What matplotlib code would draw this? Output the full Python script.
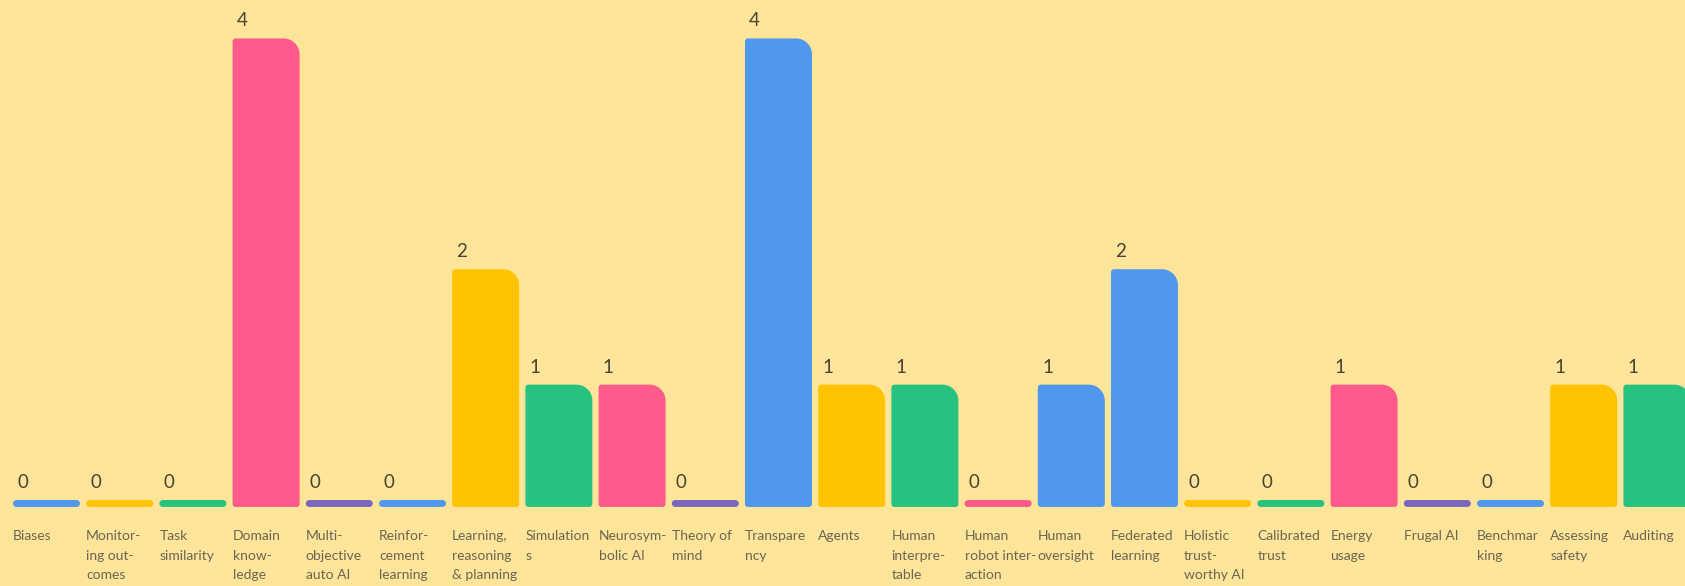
import numpy as np
import matplotlib.pyplot as plt
from matplotlib.path import Path
from matplotlib.patches import PathPatch

plt.rcParams['font.family'] = ['Lato', 'DejaVu Sans']

categories = [
    "Biases", "Monitor-\ning out-\ncomes", "Task\nsimilarity", "Domain\nknow-\nledge",
    "Multi-\nobjective\nauto AI", "Reinfor-\ncement\nlearning", "Learning,\nreasoning\n& planning",
    "Simulation\ns", "Neurosym-\nbolic AI", "Theory of\nmind", "Transpare\nncy", "Agents",
    "Human\ninterpre-\ntable", "Human\nrobot inter-\naction", "Human\noversight",
    "Federated\nlearning", "Holistic\ntrust-\nworthy AI", "Calibrated\ntrust", "Energy\nusage",
    "Frugal AI", "Benchmar\nking", "Assessing\nsafety", "Auditing",
]
values = [0, 0, 0, 4, 0, 0, 2, 1, 1, 0, 4, 1, 1, 0, 1, 2, 0, 0, 1, 0, 0, 1, 1]

BLUE, YELLOW, GREEN, PINK, PURPLE = "#4f98ee", "#ffc300", "#27c27f", "#ff5a8b", "#7b66be"
colors = [BLUE, YELLOW, GREEN, PINK, PURPLE, BLUE, YELLOW, GREEN, PINK, PURPLE,
          BLUE, YELLOW, GREEN, PINK, BLUE, BLUE, YELLOW, GREEN, PINK, PURPLE,
          BLUE, YELLOW, GREEN]

BG = "#ffe599"
BAR_W = 0.915
STUB = 0.06   # zero values still get a thin pill
K = 0.5523


def rounded_path(x0, x1, y0, y1, radii, sx, sy):
    # radii in pixels: bottom-left, bottom-right, top-right, top-left
    h_px = (y1 - y0) * sy
    bl, br, tr, tl = [min(r, h_px / 2) for r in radii]
    v, c = [], []

    def rx(r):
        return r / sx

    def ry(r):
        return r / sy

    v.append((x0 + rx(bl), y0)); c.append(Path.MOVETO)
    v.append((x1 - rx(br), y0)); c.append(Path.LINETO)
    v += [(x1 - rx(br) + K * rx(br), y0), (x1, y0 + ry(br) - K * ry(br)), (x1, y0 + ry(br))]
    c += [Path.CURVE4] * 3
    v.append((x1, y1 - ry(tr))); c.append(Path.LINETO)
    v += [(x1, y1 - ry(tr) + K * ry(tr)), (x1 - rx(tr) + K * rx(tr), y1), (x1 - rx(tr), y1)]
    c += [Path.CURVE4] * 3
    v.append((x0 + rx(tl), y1)); c.append(Path.LINETO)
    v += [(x0 + rx(tl) - K * rx(tl), y1), (x0, y1 - ry(tl) + K * ry(tl)), (x0, y1 - ry(tl))]
    c += [Path.CURVE4] * 3
    v.append((x0, y0 + ry(bl))); c.append(Path.LINETO)
    v += [(x0, y0 + ry(bl) - K * ry(bl)), (x0 + rx(bl) - K * rx(bl), y0), (x0 + rx(bl), y0)]
    c += [Path.CURVE4] * 3
    v.append((x0 + rx(bl), y0)); c.append(Path.CLOSEPOLY)
    return Path(v, c)


fig = plt.figure(figsize=(16.85, 5.86), dpi=100, facecolor=BG)
ax = fig.add_axes([0, 0, 1, 1])
ax.set_facecolor(BG)
ax.set_xlim(-0.635, 22.384)
ax.set_ylim(-0.685, 4.393)
ax.axis("off")

W, H = 1685, 586
sx = W / (ax.get_xlim()[1] - ax.get_xlim()[0])
sy = H / (ax.get_ylim()[1] - ax.get_ylim()[0])

x = np.arange(len(values))
for xi, val, col, cat in zip(x, values, colors, categories):
    left = xi - BAR_W / 2
    top = val + STUB
    radii = (4, 4, 4, 4) if val == 0 else (3, 3, 16, 3)
    ax.add_patch(PathPatch(rounded_path(left, left + BAR_W, 0, top, radii, sx, sy),
                           facecolor=col, edgecolor="none"))
    ax.annotate(str(val), (left, top), xytext=(3, 8.6), textcoords="offset points",
                ha="left", va="baseline", fontsize=13.5, color="#4a4232")
    ax.annotate(cat, (left, 0), xytext=(0, -16.5), textcoords="offset points",
                ha="left", va="top", fontsize=10, color="#6b6453", linespacing=1.78)

fig.savefig("out.png", dpi=100, facecolor=BG)
